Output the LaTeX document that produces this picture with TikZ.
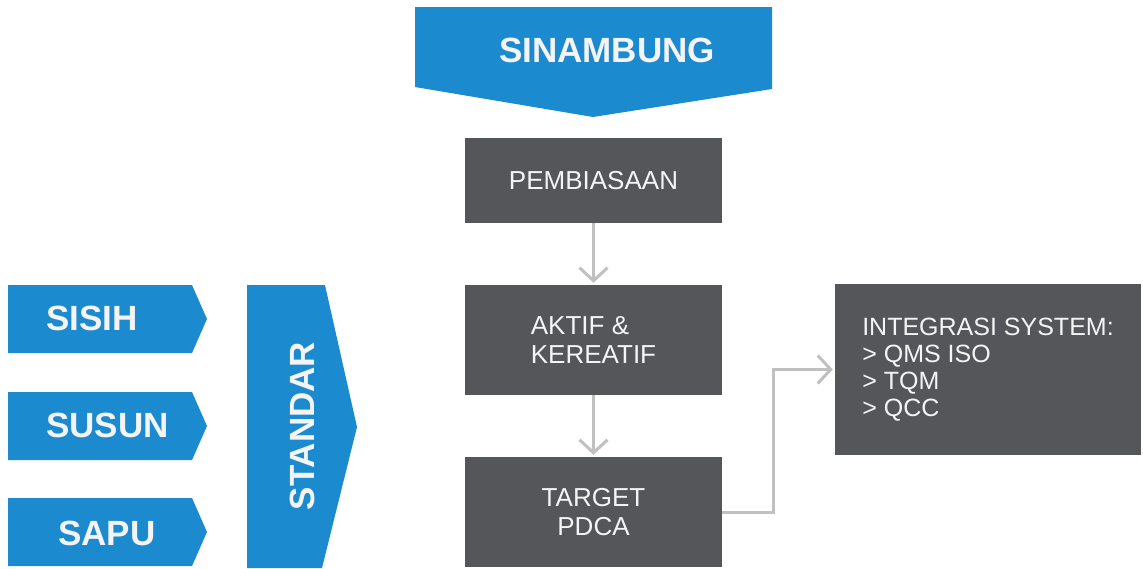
\documentclass[tikz,border=0pt]{standalone}
\usepackage{fontspec}
\setmainfont{Liberation Sans}
\usetikzlibrary{arrows.meta}
\definecolor{flowblue}{RGB}{28,138,206}
\definecolor{boxgray}{RGB}{84,86,89}
\definecolor{linkgray}{RGB}{192,192,192}
\definecolor{softwhite}{RGB}{244,244,244}
\begin{document}
\begin{tikzpicture}[x=1pt,y=-1pt,
  bluelabel/.style={text=softwhite,font=\fontsize{35}{38}\selectfont\bfseries,inner sep=0pt},
  graybox/.style={fill=boxgray,text=softwhite,inner sep=0pt,minimum width=257pt,
    font=\fontsize{26}{29}\selectfont},
  link/.style={draw=linkgray,line width=3pt,
    -{Straight Barb[length=13pt,width=28pt,line width=3pt]},shorten >=2pt}]
\useasboundingbox (0,0) rectangle (1143,568);

% blue banner on top
\fill[flowblue] (415,7) -- (772,7) -- (772,89) -- (593,117) -- (415,87) -- cycle;
\node[bluelabel] (sinambung) at (607,50) {SINAMBUNG};

% three blue steps on the left
\fill[flowblue] (8,285) -- (192,285) -- (207,319) -- (192,353) -- (8,353) -- cycle;
\node[bluelabel,anchor=west] (sisih) at (46,318) {SISIH};
\fill[flowblue] (8,392) -- (192,392) -- (207,426) -- (192,460) -- (8,460) -- cycle;
\node[bluelabel,anchor=west] (susun) at (46,425) {SUSUN};
\fill[flowblue] (8,498) -- (192,498) -- (207,532) -- (192,566) -- (8,566) -- cycle;
\node[bluelabel] (sapu) at (107,533) {SAPU};

% tall standard chevron
\fill[flowblue] (247,285) -- (325,285) -- (357,427) -- (322,568) -- (247,568) -- cycle;
\node[bluelabel,rotate=90] (standar) at (302,426) {STANDAR};

% gray process boxes
\node[graybox,minimum height=85pt] (pemb) at (593.5,180.5) {PEMBIASAAN};
\node[graybox,minimum height=110pt,align=left] (aktif) at (593.5,340) {AKTIF \&\\KEREATIF};
\node[graybox,minimum height=110pt,align=center] (target) at (593.5,512) {TARGET\\PDCA};
\node[fill=boxgray,text=softwhite,inner sep=0pt,minimum width=306pt,minimum height=171pt,
  align=left,font=\fontsize{25}{27}\selectfont] (integ) at (988,369.5)
  {INTEGRASI SYSTEM:\\> QMS ISO\\> TQM\\> QCC};

% connectors
\draw[link] (pemb.south) -- (aktif.north);
\draw[link] (aktif.south) -- (target.north);
\draw[link] (target.east) -- ++(51,0) |- (integ.west);
\end{tikzpicture}
\end{document}
